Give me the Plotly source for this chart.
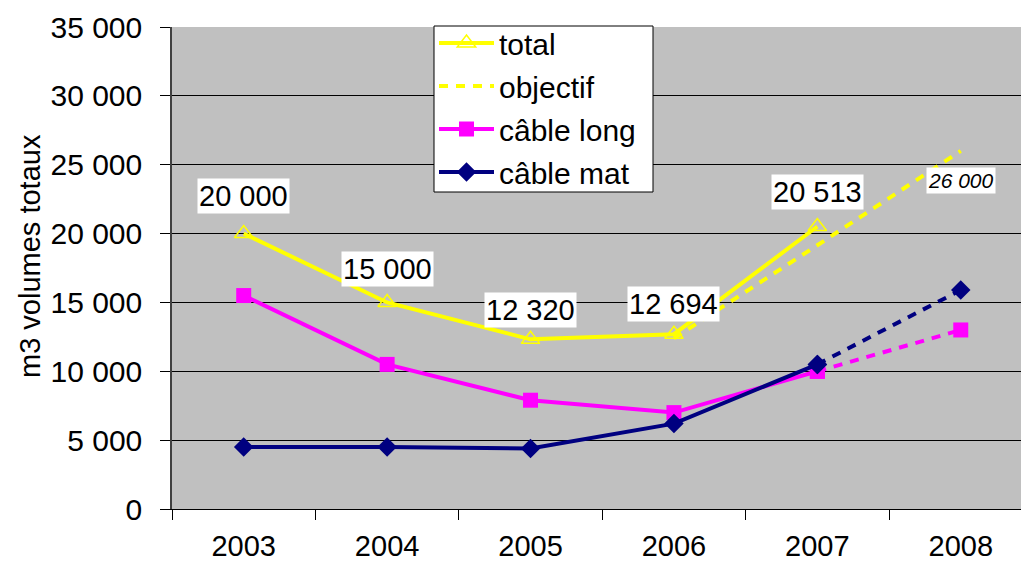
import plotly.graph_objects as go

years = ["2003", "2004", "2005", "2006", "2007", "2008"]
total = [20000, 15000, 12320, 12694, 20513]
objectif_years = ["2006", "2007", "2008"]
objectif = [12400, 19150, 26000]
cable_long = [15500, 10500, 7900, 7000, 10000]
cable_long_2008 = 13000
cable_mat = [4500, 4500, 4400, 6200, 10500]
cable_mat_2008 = 15900

total_label_shift = [38, 33, 29, 30, 35]

FONT = "Liberation Sans, Arial, sans-serif"
YELLOW = "#FFFF00"
MAGENTA = "#FF00FF"
NAVY = "#000080"

# plot-area pixel geometry (for converting legend box to paper coords)
PL, PR, PT, PB = 172, 1021, 27, 509
def px_x(x):
    return (x - PL) / (PR - PL)
def px_y(y):
    return (PB - y) / (PB - PT)

def fmt(v):
    return f"{v:,}".replace(",", " ")

fig = go.Figure()

fig.add_trace(go.Scatter(
    x=years[:5], y=total, name="total", mode="lines+markers",
    line=dict(color=YELLOW, width=4),
    marker=dict(symbol="triangle-up-open", size=16, color=YELLOW, line=dict(width=1.5, color=YELLOW)),
    legendgroup="a"))
fig.add_trace(go.Scatter(
    x=objectif_years, y=objectif, name="objectif", mode="lines",
    line=dict(color=YELLOW, width=4, dash="9px,8px"), legendgroup="b"))
fig.add_trace(go.Scatter(
    x=years[:5], y=cable_long, name="câble long", mode="lines+markers",
    line=dict(color=MAGENTA, width=4),
    marker=dict(symbol="square", size=15, color=MAGENTA), legendgroup="c"))
fig.add_trace(go.Scatter(
    x=years[4:6], y=[cable_long[-1], cable_long_2008], name="câble long", mode="lines+markers",
    line=dict(color=MAGENTA, width=4, dash="9px,8px"),
    marker=dict(symbol="square", size=15, color=MAGENTA), showlegend=False, legendgroup="c"))
fig.add_trace(go.Scatter(
    x=years[:5], y=cable_mat, name="câble mat", mode="lines+markers",
    line=dict(color=NAVY, width=4),
    marker=dict(symbol="diamond", size=15, color=NAVY), legendgroup="d"))
fig.add_trace(go.Scatter(
    x=years[4:6], y=[cable_mat[-1], cable_mat_2008], name="câble mat", mode="lines+markers",
    line=dict(color=NAVY, width=4, dash="9px,8px"),
    marker=dict(symbol="diamond", size=15, color=NAVY), showlegend=False, legendgroup="d"))

annotations = []
for i, (v, s) in enumerate(zip(total, total_label_shift)):
    annotations.append(dict(
        x=i, y=v, text=fmt(v), showarrow=False, yshift=s,
        font=dict(family=FONT, size=29, color="black"),
        bgcolor="white", borderpad=1))
annotations.append(dict(
    x=years.index(objectif_years[-1]), y=objectif[-1], text="<i>" + fmt(objectif[-1]) + "</i>",
    showarrow=False, yshift=-30,
    font=dict(family=FONT, size=21, color="black"), bgcolor="white", borderpad=1))
annotations.append(dict(
    xref="paper", yref="paper", x=px_x(30), y=px_y(256),
    xanchor="center", yanchor="middle",
    text="m3 volumes totaux", textangle=-90, showarrow=False,
    font=dict(family=FONT, size=29, color="black")))

# legend frame
shapes = [dict(
    type="rect", xref="paper", yref="paper", layer="above",
    x0=px_x(434), x1=px_x(653), y0=px_y(192), y1=px_y(26),
    fillcolor="white", line=dict(color="black", width=1))]

fig.update_layout(
    width=1021, height=564,
    margin=dict(l=PL, r=1021 - PR, t=PT, b=564 - PB, pad=0),
    paper_bgcolor="white", plot_bgcolor="#C0C0C0",
    separators=", ",
    font=dict(family=FONT, size=30, color="black"),
    showlegend=True,
    legend=dict(
        x=px_x(434), y=px_y(17), xanchor="left", yanchor="top",
        bgcolor="rgba(0,0,0,0)", borderwidth=0,
        font=dict(family=FONT, size=30, color="black"),
        traceorder="grouped", tracegroupgap=1, itemwidth=55),
    annotations=annotations,
    shapes=shapes,
    xaxis=dict(
        type="category", categoryorder="array", categoryarray=years,
        range=[-0.5, 5.42], tickson="boundaries", ticks="outside", ticklen=10,
        tickcolor="black", showgrid=False, showline=True, linecolor="black", linewidth=1,
        tickfont=dict(family=FONT, size=29), ticklabelstandoff=11, automargin=False,
        zeroline=False),
    yaxis=dict(
        range=[0, 35000], dtick=5000, tickformat=",d", ticks="outside", ticklen=10,
        tickcolor="black", showgrid=True, gridcolor="#000000", gridwidth=1,
        showline=True, linecolor="#404040", linewidth=1.5, zeroline=False,
        tickfont=dict(family=FONT, size=30), ticklabelstandoff=12, automargin=False),
)

fig.write_html("out.html", config={"displayModeBar": False},
               post_script="document.body.style.margin='0';document.body.style.overflow='hidden';")
